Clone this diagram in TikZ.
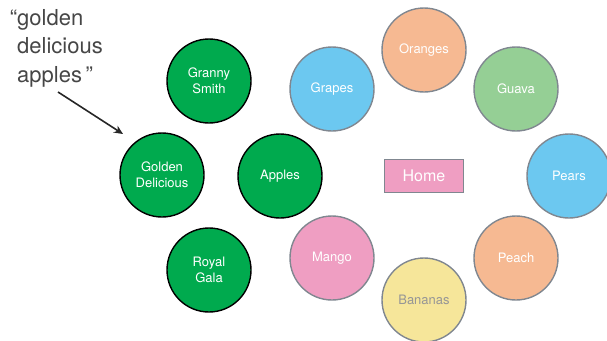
\documentclass[tikz,border=0pt]{standalone}
\usepackage{fontspec}
\setmainfont{TeX Gyre Heros}
\usetikzlibrary{arrows.meta}
\definecolor{appgreen}{RGB}{0,170,78}
\definecolor{fblue}{RGB}{108,200,240}
\definecolor{forange}{RGB}{246,185,146}
\definecolor{fguava}{RGB}{149,207,149}
\definecolor{fpink}{RGB}{239,158,194}
\definecolor{fyellow}{RGB}{246,230,154}
\definecolor{fedge}{RGB}{128,135,144}
\definecolor{labelgray}{RGB}{70,70,70}
\definecolor{bantext}{RGB}{150,150,150}
\begin{document}
\begin{tikzpicture}[x=1pt,y=-1pt,
  apple/.style={circle,minimum size=84pt,inner sep=0pt,fill=appgreen,draw=black,line width=1.4pt,text=white,font=\fontsize{13}{16}\selectfont,align=center},
  fruit/.style={circle,minimum size=84pt,inner sep=0pt,draw=fedge,line width=1.4pt,text=white,font=\fontsize{13}{16}\selectfont,align=center},
  homebox/.style={rectangle,minimum width=79pt,minimum height=33pt,fill=fpink,draw=fedge,line width=1.4pt,text=white,font=\fontsize{16}{19}\selectfont},
  note/.style={text=labelgray,font=\fontsize{22}{28.5}\selectfont,align=left,inner sep=0pt,anchor=north west}]
\useasboundingbox (0,0) rectangle (607,340);
\node[apple] (granny) at (209,81) {Granny\\Smith};
\node[apple] (golden) at (162,175) {Golden\\Delicious};
\node[apple] (apples) at (280,176) {Apples};
\node[apple] (royal) at (209,270) {Royal\\Gala};
\node[fruit,fill=fblue] (grapes) at (332,89) {Grapes};
\node[fruit,fill=forange] (oranges) at (424,50) {Oranges};
\node[fruit,fill=fguava] (guava) at (516,89) {Guava};
\node[fruit,fill=fblue] (pears) at (569,176) {Pears};
\node[fruit,fill=forange] (peach) at (516,258) {Peach};
\node[fruit,fill=fyellow,text=bantext] (bananas) at (424,300) {Bananas};
\node[fruit,fill=fpink] (mango) at (332,258) {Mango};
\node[homebox] (home) at (424,176) {Home};
\node[note] (label) at (17,9) {\llap{“}golden\\delicious\\apples\,”};
\coordinate (tail) at (58,92);
\draw[line width=1.6pt,color=black!85,-{Stealth[length=9pt,width=8pt]}] (tail) -- (123,134);
\end{tikzpicture}
\end{document}
